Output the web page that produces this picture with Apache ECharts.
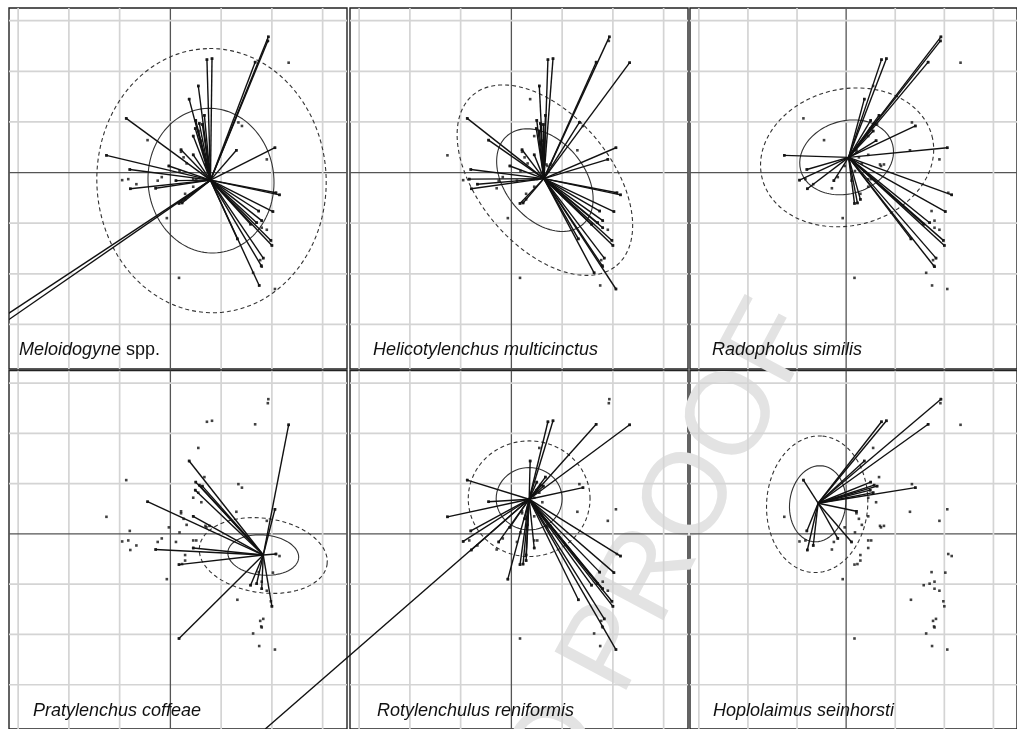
<!DOCTYPE html>
<html><head><meta charset="utf-8">
<script src="https://cdn.jsdelivr.net/npm/echarts@6/dist/echarts.min.js"></script>
<style>html,body{margin:0;padding:0;background:#fff}#c{width:1017px;height:729px}</style>
</head><body><div id="c"></div><script>
// ---- data (ordination units) ----
const SITES = [[1.93,2.68],[1.92,2.60],[0.72,2.23],[0.82,2.25],[1.67,2.18],[2.33,2.17],[0.55,1.71],[0.37,1.45],[-0.87,1.07],[0.67,1.13],[0.50,1.03],[0.57,0.97],[0.63,0.95],[1.34,0.99],[1.41,0.92],[0.49,0.87],[0.55,0.82],[0.45,0.72],[0.61,0.63],[-0.45,0.64],[1.30,0.44],[0.21,0.45],[0.21,0.41],[0.45,0.35],[2.06,0.49],[-1.26,0.34],[0.26,0.30],[0.32,0.18],[1.90,0.26],[-0.03,0.13],[0.18,0.03],[-0.80,0.06],[0.71,0.13],[0.69,0.16],[0.77,0.16],[-0.17,-0.09],[-0.25,-0.16],[-0.95,-0.15],[-0.83,-0.13],[-0.67,-0.23],[-0.79,-0.32],[0.11,-0.16],[0.45,-0.13],[0.51,-0.13],[0.45,-0.28],[-0.29,-0.31],[0.29,-0.42],[0.29,-0.53],[0.17,-0.61],[0.23,-0.60],[2.08,-0.40],[2.15,-0.44],[2.02,-0.77],[1.74,-0.76],[-0.07,-0.90],[1.58,-1.02],[1.70,-0.99],[1.80,-0.95],[1.80,-1.09],[1.90,-1.13],[1.32,-1.31],[1.98,-1.34],[2.00,-1.44],[1.77,-1.73],[1.83,-1.69],[1.79,-1.84],[1.80,-1.86],[1.63,-1.98],[0.17,-2.08],[1.75,-2.23],[2.06,-2.30],[-4.85,-3.88],[-4.85,-4.06]];

const GRID_TICKS = [-4,-3,-2,-1,0,1,2,3,4];
const PANEL_NAMES = ['{i|Meloidogyne} spp.','Helicotylenchus multicinctus','Radopholus similis','Pratylenchus coffeae','Rotylenchulus reniformis','Hoplolaimus seinhorsti'];

const CENTER_MEL = [0.79,-0.15];
const CENTER_HEL = [0.64,-0.12];
const CENTER_RAD = [0.05,0.30];
const CENTER_PRA = [1.83,-0.42];
const CENTER_ROT = [0.35,0.69];
const CENTER_HOP = [-0.57,0.61];

const LINKS_MEL = [[1.93,2.68],[1.92,2.60],[1.67,2.18],[0.72,2.23],[0.82,2.25],[0.55,1.71],[0.37,1.45],[-0.87,1.07],[0.67,1.13],[0.50,1.03],[0.57,0.97],[0.63,0.95],[0.55,0.82],[0.49,0.87],[0.45,0.72],[0.21,0.45],[0.45,0.35],[1.30,0.44],[2.06,0.49],[-1.26,0.34],[-0.80,0.06],[-0.03,0.13],[-0.79,-0.32],[-0.29,-0.31],[0.11,-0.16],[2.15,-0.44],[2.08,-0.40],[2.02,-0.77],[1.80,-0.95],[2.00,-1.44],[1.98,-1.34],[1.83,-1.69],[1.79,-1.84],[1.75,-2.23],[0.17,-0.61],[0.23,-0.60],[1.58,-1.02],[1.70,-0.99],[1.32,-1.31],[1.74,-0.76],[-4.85,-3.88],[-4.85,-4.06]];
const LINKS_HEL = [[1.93,2.68],[1.67,2.18],[2.33,2.17],[0.72,2.23],[0.82,2.25],[0.55,1.71],[-0.87,1.07],[0.50,1.03],[0.57,0.97],[0.67,1.13],[0.63,0.95],[0.55,0.82],[0.49,0.87],[1.34,0.99],[-0.45,0.64],[0.21,0.45],[0.45,0.35],[2.06,0.49],[1.90,0.26],[-0.80,0.06],[-0.83,-0.13],[-0.67,-0.23],[-0.79,-0.32],[-0.03,0.13],[0.17,-0.61],[0.23,-0.60],[2.15,-0.44],[2.08,-0.40],[2.02,-0.77],[1.80,-0.95],[1.98,-1.34],[2.00,-1.44],[1.83,-1.69],[1.79,-1.84],[1.63,-1.98],[2.06,-2.30],[1.32,-1.31],[1.58,-1.02],[1.70,-0.99],[1.74,-0.76],[1.80,-1.09]];
const LINKS_RAD = [[1.93,2.68],[1.92,2.60],[1.67,2.18],[0.72,2.23],[0.82,2.25],[0.37,1.45],[0.50,1.03],[0.67,1.13],[0.57,0.97],[1.41,0.92],[2.06,0.49],[0.55,0.82],[0.61,0.63],[-1.26,0.34],[-0.80,0.06],[-0.95,-0.15],[-0.79,-0.32],[-0.25,-0.16],[0.17,-0.61],[0.23,-0.60],[0.29,-0.53],[2.15,-0.44],[2.02,-0.77],[1.98,-1.34],[2.00,-1.44],[1.83,-1.69],[1.80,-1.86],[1.32,-1.31],[1.58,-1.02],[1.70,-0.99]];
const LINKS_PRA = [[2.33,2.17],[0.37,1.45],[0.50,1.03],[0.57,0.97],[0.63,0.95],[0.49,0.87],[-0.45,0.64],[0.45,0.35],[-0.29,-0.31],[0.17,-0.61],[2.08,-0.40],[1.58,-1.02],[1.70,-0.99],[1.80,-1.09],[2.00,-1.44],[0.17,-2.08],[0.45,-0.28],[2.06,0.49]];
const LINKS_ROT = [[0.72,2.23],[0.82,2.25],[1.67,2.18],[2.33,2.17],[0.37,1.45],[-0.87,1.07],[0.67,1.13],[0.50,1.03],[0.57,0.97],[0.63,0.95],[1.41,0.92],[-0.45,0.64],[-1.26,0.34],[-0.80,0.06],[-0.95,-0.15],[-0.79,-0.32],[0.26,0.30],[-0.03,0.13],[0.17,-0.61],[0.23,-0.60],[-0.07,-0.90],[0.45,-0.28],[2.15,-0.44],[2.02,-0.77],[1.74,-0.76],[1.98,-1.34],[2.00,-1.44],[1.83,-1.69],[2.06,-2.30],[1.32,-1.31],[1.58,-1.02],[1.70,-0.99],[1.80,-1.09],[-4.85,-3.88],[0.29,-0.42],[0.29,-0.53],[-0.25,-0.16]];
const LINKS_HOP = [[1.93,2.68],[1.67,2.18],[0.72,2.23],[0.82,2.25],[0.37,1.45],[0.50,1.03],[0.57,0.97],[0.63,0.95],[1.41,0.92],[0.55,0.82],[0.49,0.87],[-0.87,1.07],[0.21,0.45],[-0.80,0.06],[-0.79,-0.32],[-0.67,-0.23],[-0.17,-0.09],[0.11,-0.16]];

// ellipse parameters: [cx, cy, semi-axis a, semi-axis b, angle deg]
const ELL_SOLID_MEL = [0.80,-0.16,1.43,1.24,95];
const ELL_DASH_MEL  = [0.81,-0.16,2.61,2.26,92];
const ELL_SOLID_HEL = [0.66,-0.15,1.15,0.78,-50];
const ELL_DASH_HEL  = [0.66,-0.15,2.20,1.30,-50];
const ELL_SOLID_RAD = [0.01,0.30,0.97,0.72,15];
const ELL_DASH_RAD  = [0.02,0.30,1.78,1.35,12];
const ELL_SOLID_PRA = [1.83,-0.42,0.70,0.40,-5];
const ELL_DASH_PRA  = [1.83,-0.43,1.27,0.74,-8];
const ELL_SOLID_ROT = [0.35,0.70,0.65,0.62,0];
const ELL_DASH_ROT  = [0.35,0.70,1.20,1.15,0];
const ELL_SOLID_HOP = [-0.58,0.60,0.76,0.57,82];
const ELL_DASH_HOP  = [-0.59,0.59,1.36,1.03,86];

// ---- layout ----
const XMIN=-3.18, XMAX=3.48, YMIN=-3.88, YMAX=3.25;
const W=338, H=361, LEFTS=[9,350,690], TOPS=[8,370.5];
const LABEL_X=[19,373,712,33,377,713], LABEL_Y=[350,350,350,711,711,711];
const FONT='"Liberation Sans", Arial, sans-serif';

const panels = [
  {center:CENTER_MEL, links:LINKS_MEL, solid:ELL_SOLID_MEL, dash:ELL_DASH_MEL, clip:true},
  {center:CENTER_HEL, links:LINKS_HEL, solid:ELL_SOLID_HEL, dash:ELL_DASH_HEL, clip:true},
  {center:CENTER_RAD, links:LINKS_RAD, solid:ELL_SOLID_RAD, dash:ELL_DASH_RAD, clip:true},
  {center:CENTER_PRA, links:LINKS_PRA, solid:ELL_SOLID_PRA, dash:ELL_DASH_PRA, clip:true},
  {center:CENTER_ROT, links:LINKS_ROT, solid:ELL_SOLID_ROT, dash:ELL_DASH_ROT, clip:false},
  {center:CENTER_HOP, links:LINKS_HOP, solid:ELL_SOLID_HOP, dash:ELL_DASH_HOP, clip:true}
];

function ellipse(p){
  const cx=p[0],cy=p[1],a=p[2],b=p[3],t=p[4]*Math.PI/180, pts=[];
  for(let i=0;i<=120;i++){
    const s=i/120*2*Math.PI, x=a*Math.cos(s), y=b*Math.sin(s);
    pts.push([cx+x*Math.cos(t)-y*Math.sin(t), cy+x*Math.sin(t)+y*Math.cos(t)]);
  }
  return pts;
}

const gridLineData=[];
GRID_TICKS.forEach(v=>{gridLineData.push([0,v]);gridLineData.push([1,v]);});

const grids=[], xAxes=[], yAxes=[], series=[], titles=[];
panels.forEach((p,i)=>{
  const col=i%3, row=Math.floor(i/3);
  grids.push({left:LEFTS[col], top:TOPS[row], width:W, height:H, show:true, borderColor:'#222', borderWidth:1.4, backgroundColor:'transparent'});
  xAxes.push({gridIndex:i, type:'value', min:XMIN, max:XMAX, show:false});
  yAxes.push({gridIndex:i, type:'value', min:YMIN, max:YMAX, show:false});
  series.push({type:'custom', xAxisIndex:i, yAxisIndex:i, silent:true, z:1, clip:true,
    data:gridLineData.filter(d=> d[0]===0 ? (d[1]>XMIN && d[1]<XMAX) : (d[1]>YMIN && d[1]<YMAX)),
    renderItem:(params,api)=>{
      const o=api.value(0), v=api.value(1);
      const a = o===0 ? api.coord([v,YMIN]) : api.coord([XMIN,v]);
      const b = o===0 ? api.coord([v,YMAX]) : api.coord([XMAX,v]);
      return {type:'line', shape:{x1:a[0],y1:a[1],x2:b[0],y2:b[1]},
        style:{stroke: v===0?'#555':'#d4d4d4', lineWidth: v===0?1.3:1.7}};
    }});
  series.push({type:'line', xAxisIndex:i, yAxisIndex:i, silent:true, z:3, data:ellipse(p.solid), showSymbol:false, symbol:'none', clip:true,
    lineStyle:{color:'#333', width:1.1}});
  series.push({type:'line', xAxisIndex:i, yAxisIndex:i, silent:true, z:3, data:ellipse(p.dash), showSymbol:false, symbol:'none', clip:true,
    lineStyle:{color:'#333', width:1.1, type:[4,3]}});
  const c=p.center;
  series.push({type:'custom', xAxisIndex:i, yAxisIndex:i, silent:true, z:4, clip:p.clip, data:p.links,
    encode:{x:0,y:1},
    renderItem:(params,api)=>{
      const s=api.coord(c), e=api.coord([api.value(0),api.value(1)]);
      return {type:'line', shape:{x1:s[0],y1:s[1],x2:e[0],y2:e[1]}, style:{stroke:'#111', lineWidth:1.4}};
    }});
  series.push({type:'scatter', xAxisIndex:i, yAxisIndex:i, silent:true, z:5, clip:true,
    data:SITES.concat(p.links), symbol:'rect', symbolSize:2.6, itemStyle:{color:'#111'}});
  titles.push({text:PANEL_NAMES[i], left:LABEL_X[i], top:LABEL_Y[i]-11, padding:0, z:8,
    textStyle:{fontFamily:FONT, fontSize:18, fontWeight:'normal', fontStyle: i===0?'normal':'italic', color:'#111', lineHeight:22,
      rich:{i:{fontFamily:FONT, fontSize:18, fontStyle:'italic', color:'#111', lineHeight:22}}}});
});

const WM_ROT = 62*Math.PI/180;
const chart=echarts.init(document.getElementById('c'),null,{renderer:'canvas'});
chart.setOption({
  animation:false, backgroundColor:'#fff',
  title:titles, grid:grids, xAxis:xAxes, yAxis:yAxes, series:series,
  graphic:{elements:[
    {type:'text', x:593, y:683, rotation:WM_ROT, z:0, silent:true,
     style:{text:'PROOF', font:'118px '+FONT, fill:'#e3e3e3', align:'left', verticalAlign:'middle', textAlign:'left', textVerticalAlign:'middle'}},
    {type:'text', x:593, y:683, rotation:WM_ROT, z:0, silent:true,
     style:{text:'UNCORRECTED ', font:'118px '+FONT, fill:'#e3e3e3', align:'right', verticalAlign:'middle', textAlign:'right', textVerticalAlign:'middle'}}
  ]}
});
</script></body></html>
